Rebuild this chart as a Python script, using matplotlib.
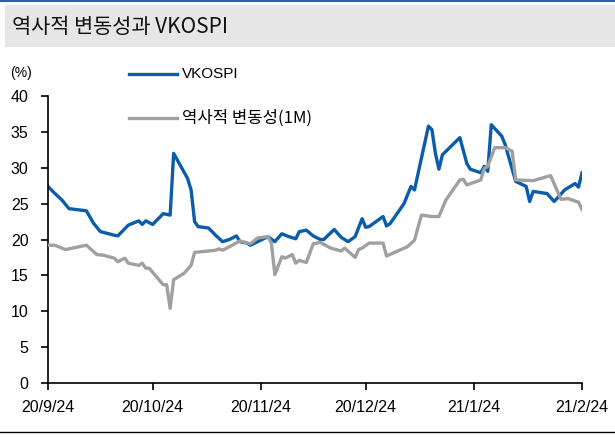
import matplotlib
matplotlib.use("Agg")
import matplotlib.pyplot as plt
from matplotlib.lines import Line2D
from matplotlib.patches import Rectangle
import pandas as pd

vkospi_dates = [
    "2020-09-24", "2020-09-26", "2020-09-28", "2020-09-30", "2020-10-05", "2020-10-07",
    "2020-10-09", "2020-10-13", "2020-10-14", "2020-10-17", "2020-10-20", "2020-10-21",
    "2020-10-22", "2020-10-24", "2020-10-27", "2020-10-29", "2020-10-30", "2020-11-03",
    "2020-11-04", "2020-11-05", "2020-11-06", "2020-11-09", "2020-11-11", "2020-11-13",
    "2020-11-15", "2020-11-17", "2020-11-18", "2020-11-20", "2020-11-21", "2020-11-26",
    "2020-11-28", "2020-11-30", "2020-12-02", "2020-12-04", "2020-12-05", "2020-12-07",
    "2020-12-09", "2020-12-11", "2020-12-12", "2020-12-15", "2020-12-17", "2020-12-19",
    "2020-12-21", "2020-12-23", "2020-12-24", "2020-12-25", "2020-12-29", "2020-12-30",
    "2020-12-31", "2021-01-04", "2021-01-06", "2021-01-07", "2021-01-11", "2021-01-12",
    "2021-01-13", "2021-01-14", "2021-01-15", "2021-01-20", "2021-01-22", "2021-01-23",
    "2021-01-26", "2021-01-27", "2021-01-28", "2021-01-29", "2021-02-01", "2021-02-02",
    "2021-02-03", "2021-02-05", "2021-02-08", "2021-02-09", "2021-02-10", "2021-02-14",
    "2021-02-16", "2021-02-17", "2021-02-19", "2021-02-22", "2021-02-23", "2021-02-24",
]
vkospi = [
    27.4, 26.4, 25.5, 24.3, 24.0, 22.3,
    21.1, 20.6, 20.5, 22.0, 22.6, 22.1,
    22.6, 22.1, 23.6, 23.4, 32.0, 28.5,
    26.9, 22.5, 21.8, 21.6, 20.6, 19.7,
    20.0, 20.5, 19.7, 19.5, 19.2, 20.4,
    19.7, 20.8, 20.4, 20.1, 21.1, 21.3,
    20.5, 20.0, 20.0, 21.4, 20.3, 19.7,
    20.4, 22.9, 21.7, 21.8, 23.2, 21.9,
    22.2, 25.0, 27.4, 26.9, 35.8, 35.3,
    32.0, 29.8, 31.8, 34.2, 30.6, 29.8,
    29.3, 30.2, 29.5, 36.0, 34.4, 33.2,
    31.5, 28.1, 27.4, 25.3, 26.7, 26.4,
    25.3, 25.8, 26.9, 27.8, 27.3, 29.3,
]

hv_dates = [
    "2020-09-24", "2020-09-26", "2020-09-29", "2020-10-05", "2020-10-08", "2020-10-10",
    "2020-10-13", "2020-10-14", "2020-10-16", "2020-10-17", "2020-10-20", "2020-10-21",
    "2020-10-22", "2020-10-23", "2020-10-27", "2020-10-28", "2020-10-29", "2020-10-30",
    "2020-11-02", "2020-11-04", "2020-11-05", "2020-11-09", "2020-11-11", "2020-11-12",
    "2020-11-13", "2020-11-15", "2020-11-18", "2020-11-21", "2020-11-23", "2020-11-26",
    "2020-11-27", "2020-11-28", "2020-11-30", "2020-12-01", "2020-12-03", "2020-12-04",
    "2020-12-05", "2020-12-07", "2020-12-09", "2020-12-11", "2020-12-14", "2020-12-17",
    "2020-12-18", "2020-12-21", "2020-12-22", "2020-12-23", "2020-12-25", "2020-12-29",
    "2020-12-30", "2021-01-05", "2021-01-07", "2021-01-09", "2021-01-12", "2021-01-14",
    "2021-01-16", "2021-01-20", "2021-01-21", "2021-01-22", "2021-01-26", "2021-01-27",
    "2021-01-28", "2021-01-30", "2021-02-02", "2021-02-04", "2021-02-05", "2021-02-10",
    "2021-02-15", "2021-02-18", "2021-02-20", "2021-02-23", "2021-02-24",
]
hv = [
    19.2, 19.2, 18.6, 19.2, 17.9, 17.8,
    17.4, 16.9, 17.4, 16.7, 16.4, 16.7,
    16.0, 16.0, 13.7, 13.7, 10.4, 14.4,
    15.3, 16.4, 18.2, 18.4, 18.5, 18.7,
    18.5, 19.0, 19.8, 19.4, 20.2, 20.4,
    19.5, 15.1, 17.6, 17.4, 17.9, 16.7,
    17.1, 16.8, 19.4, 19.6, 18.8, 18.4,
    18.8, 17.5, 18.6, 18.8, 19.5, 19.5,
    17.7, 19.0, 19.9, 23.4, 23.2, 23.2,
    25.5, 28.3, 28.4, 27.6, 28.3, 29.9,
    30.2, 32.8, 32.8, 32.3, 28.3, 28.2,
    28.9, 25.6, 25.7, 25.2, 24.2,
]

tick_dates = ["2020-09-24", "2020-10-24", "2020-11-24", "2020-12-24", "2021-01-24", "2021-02-24"]
tick_labels = ["20/9/24", "20/10/24", "20/11/24", "20/12/24", "21/1/24", "21/2/24"]
y_ticks = [0, 5, 10, 15, 20, 25, 30, 35, 40]

title = "역사적 변동성과 VKOSPI"
label_vkospi = "VKOSPI"
label_hv = "역사적 변동성(1M)"

BLUE = "#0b5cab"
GREY = "#a0a0a0"
SANS = ["Liberation Sans", "DejaVu Sans"]
KR = ["Noto Sans CJK KR", "DejaVu Sans"]

W, H = 615, 438
fig = plt.figure(figsize=(W / 100, H / 100), dpi=100)

def fx(px):
    return px / W

def fy(py):
    return 1 - py / H

# title band
fig.patches.append(Rectangle((fx(5), fy(47)), 1, 42 / H, transform=fig.transFigure,
                             facecolor="#e6e6e6", edgecolor="none"))
fig.lines.append(Line2D([0, 1], [fy(1), fy(1)], transform=fig.transFigure,
                        color="#1f64b0", lw=1.5))
fig.text(fx(12), fy(27), title, family=KR, fontsize=15, va="center", ha="left",
         color="#111111")
# bottom rule
fig.lines.append(Line2D([0, 1], [fy(432), fy(432)], transform=fig.transFigure,
                        color="black", lw=1))

ax = fig.add_axes([fx(48), fy(383), (582 - 48) / W, (383 - 96) / H])
ax.plot(pd.to_datetime(vkospi_dates), vkospi, color=BLUE, lw=2.4, zorder=2)
ax.plot(pd.to_datetime(hv_dates), hv, color=GREY, lw=2.4, zorder=3)

ax.set_xlim(pd.Timestamp(tick_dates[0]), pd.Timestamp(tick_dates[-1]))
ax.set_ylim(0, 40)
ax.set_yticks(y_ticks)
ax.set_xticks(pd.to_datetime(tick_dates))
ax.set_xticklabels(tick_labels)
for lab in ax.get_xticklabels() + ax.get_yticklabels():
    lab.set_family(SANS)
    lab.set_fontsize(11.5)
ax.tick_params(axis="y", direction="out", length=5, width=1.2, pad=9)
ax.tick_params(axis="x", direction="out", length=5, width=1.2, pad=7)
for side in ("top", "right"):
    ax.spines[side].set_visible(False)
for side in ("left", "bottom"):
    ax.spines[side].set_linewidth(1.2)
ax.patch.set_visible(False)

# unit and legend
fig.text(fx(10), fy(73), "(%)", family=SANS, fontsize=10, va="center", ha="left")
fig.lines.append(Line2D([fx(129), fx(177)], [fy(74), fy(74)], transform=fig.transFigure,
                        color=BLUE, lw=2.4))
fig.text(fx(182), fy(74), label_vkospi, family=SANS, fontsize=11, va="center", ha="left")
fig.lines.append(Line2D([fx(129), fx(177)], [fy(118), fy(118)], transform=fig.transFigure,
                        color=GREY, lw=2.4))
fig.text(fx(182), fy(118), label_hv, family=KR, fontsize=12, va="center", ha="left")

fig.savefig("out.png", dpi=100)
